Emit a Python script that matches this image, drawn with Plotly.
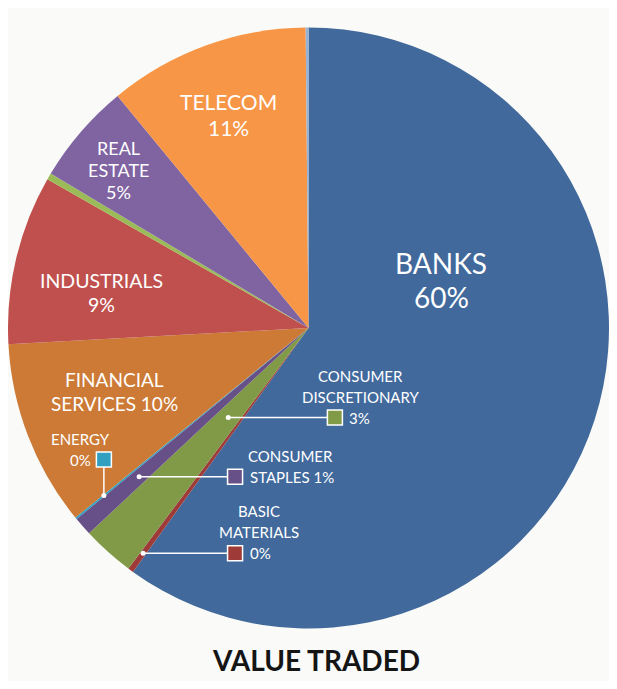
import math
import plotly.graph_objects as go

# ---------------- data ----------------
categories = ["BANKS", "BASIC MATERIALS", "CONSUMER DISCRETIONARY", "CONSUMER STAPLES", "ENERGY",
              "FINANCIAL SERVICES", "INDUSTRIALS", "OTHER A", "REAL ESTATE", "TELECOM", "OTHER B"]
values = [59.9, 0.3, 2.8, 1.0, 0.1, 10.0, 9.1, 0.35, 5.45, 10.8, 0.15]
colors = ["#41699C", "#9E3B38", "#809A47", "#674F88", "#31A0C0", "#CC7A36",
          "#C0504D", "#9BBB59", "#8064A2", "#F79646", "#95B3D7"]
title_text = "VALUE TRADED"

# ---------------- geometry ----------------
OFF = 8                      # default page body margin
FW, FH = 601, 673            # figure size that fits the 617x689 window without scrolling
R = FW / 2.0                 # pie radius (px)
CXs, CYs = OFF + R, 328.0    # pie centre on screen
REF_C, REF_R = (315.5, 330.0), 313.0
s = R / REF_R
yc = 1 - (CYs - OFF) / FH
half = R / FH
total = sum(values)
pct = {c: round(v / total * 100) for c, v in zip(categories, values)}
col = dict(zip(categories, colors))


def P(X, Y):
    """screen px -> paper coords"""
    return (X - OFF) / FW, 1 - (Y - OFF) / FH


def T(X, Y):
    """reference pie-relative position -> screen px of this pie"""
    return CXs + (X - REF_C[0]) * s, CYs + (Y - REF_C[1]) * s


def slice_point(cat, rfrac):
    i = categories.index(cat)
    cum = sum(values[:i]) + values[i] / 2.0
    th = 2 * math.pi * cum / total
    return CXs + R * rfrac * math.sin(th), CYs - R * rfrac * math.cos(th)


fig = go.Figure(go.Pie(
    labels=categories, values=values, sort=False, direction="clockwise", rotation=0,
    marker=dict(colors=colors, line=dict(width=0)), textinfo="none", hoverinfo="label+percent",
    domain=dict(x=[0, 1], y=[yc - half, yc + half]), showlegend=False,
))

FONT = "Lato"
ann = []
shapes = []


def text(s_, X, Y, size, anchor="center", color="white", bold=False):
    x, y = P(X, Y)
    ann.append(dict(text=("<b>%s</b>" % s_) if bold else s_, x=x, y=y, xref="paper", yref="paper",
                    xanchor=anchor, yanchor="middle", showarrow=False,
                    font=dict(family=FONT, size=size, color=color)))


# big in-slice labels: (lines, ref centre x, ref y of first line, font size)
big = {
    "BANKS": (["BANKS", "%d%%" % pct["BANKS"]], 454, 262, 28),
    "TELECOM": (["TELECOM", "%d%%" % pct["TELECOM"]], 232, 94, 21),
    "REAL ESTATE": (["REAL", "ESTATE", "%d%%" % pct["REAL ESTATE"]], 118, 143, 18),
    "INDUSTRIALS": (["INDUSTRIALS", "%d%%" % pct["INDUSTRIALS"]], 100, 281, 19.5),
    "FINANCIAL SERVICES": (["FINANCIAL", "SERVICES %d%%" % pct["FINANCIAL SERVICES"]], 113, 384, 19),
}
for cat, (lines, x, y0, size) in big.items():
    X, Y = T(x, y0)
    for k, ln in enumerate(lines):
        text(ln, X, Y + k * size * 1.22, size)

SQ = 7.5  # half size of key squares in px


def square(cat, X, Y):
    x0, y0 = P(X - SQ, Y + SQ)
    x1, y1 = P(X + SQ, Y - SQ)
    shapes.append(dict(type="rect", xref="paper", yref="paper", x0=x0, y0=y0, x1=x1, y1=y1,
                       fillcolor=col[cat], line=dict(color="white", width=1.5), layer="above"))


def dot(X, Y):
    x0, y0 = P(X - 2.5, Y + 2.5)
    x1, y1 = P(X + 2.5, Y - 2.5)
    shapes.append(dict(type="circle", xref="paper", yref="paper", x0=x0, y0=y0, x1=x1, y1=y1,
                       fillcolor="white", line=dict(color="white", width=0), layer="above"))


def seg(ax, ay, bx, by):
    x0, y0 = P(ax, ay)
    x1, y1 = P(bx, by)
    shapes.append(dict(type="line", xref="paper", yref="paper", x0=x0, y0=y0, x1=x1, y1=y1,
                       line=dict(color="white", width=1.5), layer="above"))


# horizontal callouts: (category, radial fraction, ref square x, text lines above, ref text x, pct format)
callouts = [
    ("CONSUMER DISCRETIONARY", 0.40, 343, ["CONSUMER", "DISCRETIONARY"], 370, "%d%%"),
    ("CONSUMER STAPLES", 0.75, 239, ["CONSUMER"], 297, "STAPLES %d%%"),
    ("BASIC MATERIALS", 0.93, 239, ["BASIC", "MATERIALS"], 264, "%d%%"),
]
for cat, rf, sqx_ref, above, tx_ref, fmt in callouts:
    dx, dy = slice_point(cat, rf)
    sqx = T(sqx_ref, 0)[0]
    tx = T(tx_ref, 0)[0]
    seg(dx, dy, sqx - SQ, dy)
    dot(dx, dy)
    square(cat, sqx, dy)
    n = len(above)
    for k, ln in enumerate(above):
        text(ln, tx, dy - 21 * (n - k), 15)
    text(fmt % pct[cat], sqx + SQ + 5, dy, 15, anchor="left")

# energy: vertical callout
ex, ey = slice_point("ENERGY", 0.88)
sqy = ey - 36
seg(ex, ey, ex, sqy + SQ)
dot(ex, ey)
square("ENERGY", ex, sqy)
text("ENERGY", ex - 23, sqy - 21, 15)
text("%d%%" % pct["ENERGY"], ex - SQ - 3, sqy, 15, anchor="right")

# title
text(title_text, 316, 660, 28, color="#151515", bold=True)

fig.update_layout(
    width=FW, height=FH,
    margin=dict(l=0, r=0, t=0, b=0),
    paper_bgcolor="#fafbf8", plot_bgcolor="#fafbf8",
    annotations=ann, shapes=shapes,
)
fig.write_html("out.html")
